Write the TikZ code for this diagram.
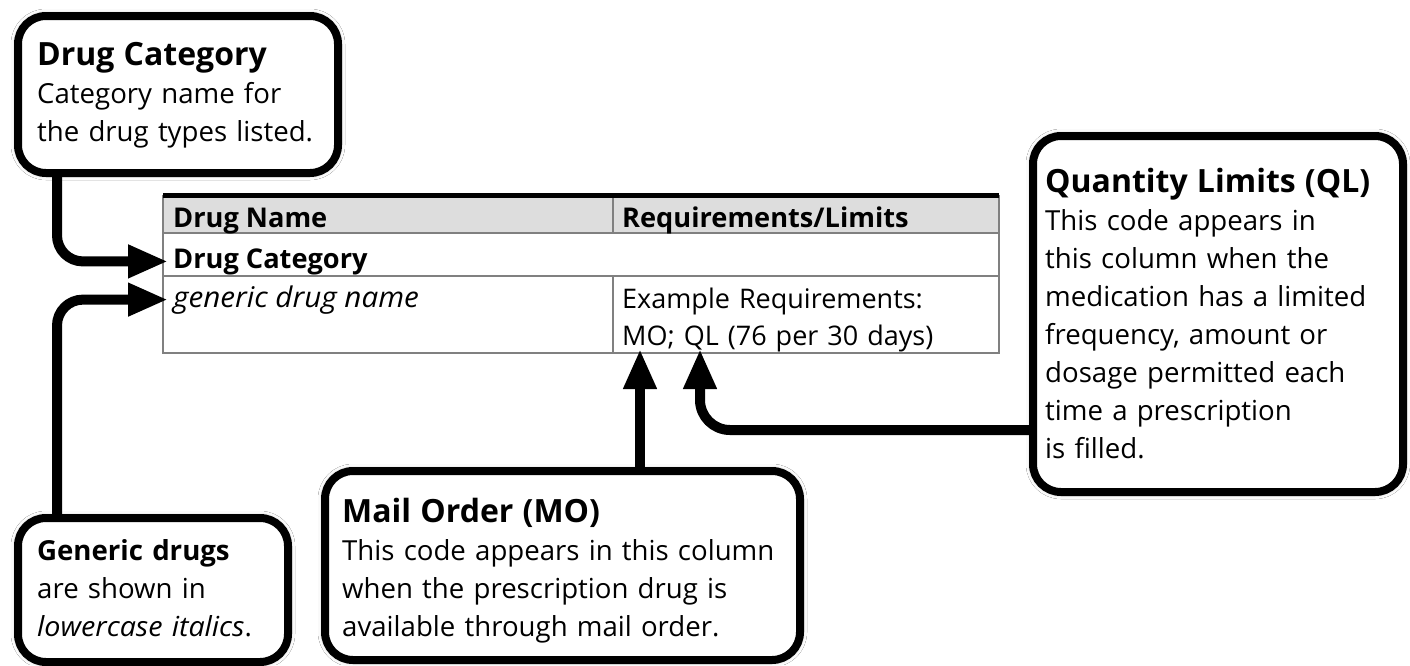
\documentclass[tikz,border=0pt]{standalone}
\usepackage{fontspec}
\setmainfont{Open Sans}[ItalicFeatures={FakeStretch=1.04}]
\usetikzlibrary{arrows.meta,shadows.blur}
\definecolor{hdrgray}{HTML}{DDDDDD}
\definecolor{rulegray}{HTML}{808080}
\begin{document}
\begin{tikzpicture}[x=1pt,y=-1pt,
  callout/.style={draw=black, line width=8pt, rounded corners=28pt, fill=white,
    anchor=north west, inner sep=0pt,
    blur shadow={shadow xshift=0pt, shadow yshift=0pt, shadow blur radius=7pt, shadow opacity=30}},
  conn/.style={line width=10pt, rounded corners=26pt, -{Triangle[length=40pt,width=31pt]}},
  note/.style={anchor=base west, inner sep=0pt, text width=480pt, align=left,
    font=\fontsize{27.6}{38}\selectfont},
  cell/.style={anchor=base west, inner sep=0pt, font=\fontsize{27}{37}\selectfont},
  cellbold/.style={cell, font=\bfseries\fontsize{27.2}{37}\selectfont},
  cellmulti/.style={cell, text width=370pt, align=left},
]
\useasboundingbox (0,0) rectangle (1410,665);
\fill[white] (0,0) rectangle (1410,665);

% ---------- table ----------
\fill[hdrgray] (163,197) rectangle (999,233);
\draw[rulegray, line width=1.5pt] (163,196) rectangle (999,353);
\draw[rulegray, line width=1.5pt] (163,233) -- (999,233);
\draw[rulegray, line width=1.5pt] (163,276) -- (999,276);
\draw[rulegray, line width=1.5pt] (613,196) -- (613,233);
\draw[rulegray, line width=1.5pt] (613,276) -- (613,353);
\draw[black, line width=5pt] (163,195.5) -- (999,195.5);

\node[cellbold] (hname) at (173,227) {Drug Name};
\node[cellbold] (hreq) at (622,227) {Requirements/Limits};
\node[cellbold] (catlabel) at (173,268) {Drug Category};
\node[cell, font=\itshape\fontsize{28.5}{37}\selectfont] (genlabel) at (173,307) {generic drug name};
\node[cellmulti] (reqtext) at (622,308) {Example Requirements:\\MO; QL (76 per 30 days)};

% ---------- callout boxes ----------
\node[callout, minimum width=320pt, minimum height=157pt] (dcbox) at (14,12) {};
\node[callout, minimum width=370pt, minimum height=356pt] (qlbox) at (1029,132) {};
\node[callout, minimum width=270pt, minimum height=144pt] (genbox) at (14,514) {};
\node[callout, minimum width=475pt, minimum height=189pt] (mobox) at (321,467) {};

\node[note] (dctext) at (37,65) {{\bfseries\fontsize{32}{38}\selectfont Drug Category}\\
Category name for\\the drug types listed.};
\node[note] (qltext) at (1045,192) {{\bfseries\fontsize{32}{38}\selectfont Quantity Limits (QL)}\\
This code appears in\\this column when the\\medication has a limited\\frequency, amount or\\dosage permitted each\\time a prescription\\is filled.};
\node[note] (gentext) at (37,560) {{\bfseries Generic drugs}\\
are shown in\\\textit{lowercase italics}.};
\node[note] (motext) at (342,522) {{\bfseries\fontsize{32}{38}\selectfont Mail Order (MO)}\\
This code appears in this column\\when the prescription drug is\\available through mail order.};

% ---------- connectors ----------
\coordinate (leftx) at (57,0);
\coordinate (motip) at (640,349);
\coordinate (qltip) at (700,349);
\coordinate (qly) at (0,430);

\draw[conn, shorten >=5pt] (dcbox.south -| leftx) |- (catlabel.west);
\draw[conn, shorten >=5pt] (genbox.north -| leftx) |- (genlabel.west);
\draw[conn] (mobox.north -| motip) -- (motip);
\draw[conn, rounded corners=30pt] (qlbox.west |- qly) -| (qltip);
\end{tikzpicture}
\end{document}
